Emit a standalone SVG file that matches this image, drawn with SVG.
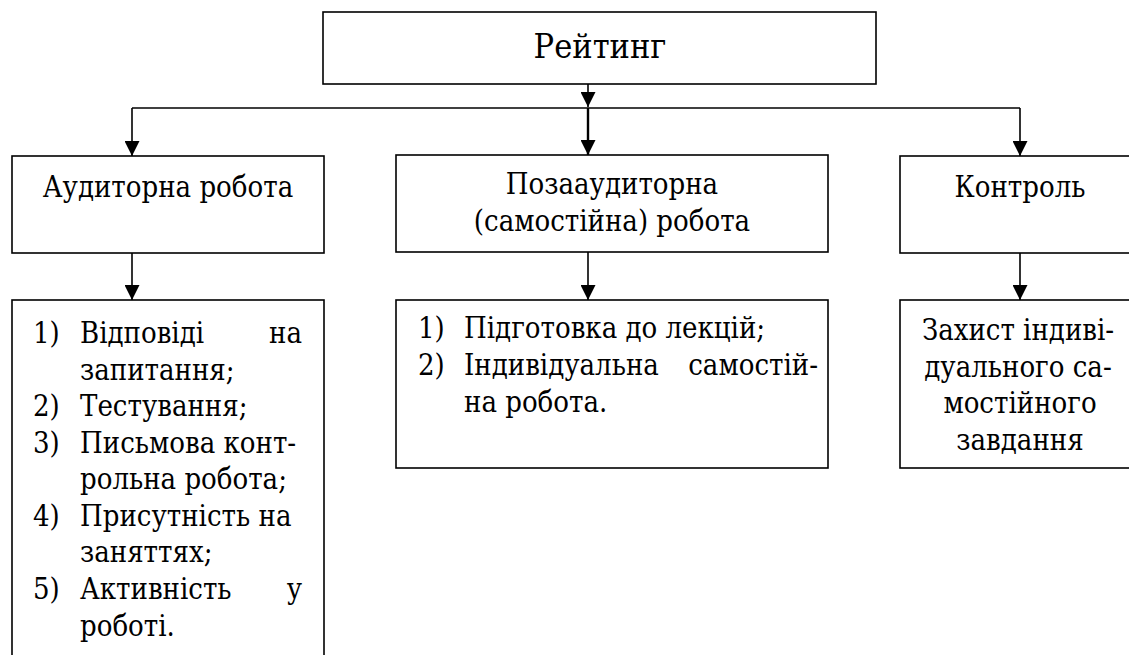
<svg xmlns="http://www.w3.org/2000/svg" width="1129" height="655" viewBox="0 0 1129 655">
<defs>
<style>
.box{fill:#fff;stroke:#000;stroke-width:1.6}
.t{font-family:"DejaVu Serif Condensed","DejaVu Serif",serif;font-stretch:condensed;font-size:29px;fill:#000}
.c{text-anchor:middle}
.e{text-anchor:end}
.title{font-size:34px}
.ln{fill:none;stroke:#000;stroke-width:1.6}
</style>
<marker id="ah" viewBox="0 0 15 15" refX="15" refY="7.5" markerWidth="15" markerHeight="15" markerUnits="userSpaceOnUse" orient="auto">
<path d="M0,0 L15,7.5 L0,15 z" fill="#000"/>
</marker>
</defs>
<rect width="1129" height="655" fill="#fff"/>
<g id="connectors">
<path class="ln" d="M588,84 V107" marker-end="url(#ah)"/>
<path class="ln" d="M132,108 H1020"/>
<path class="ln" d="M132,108 V156" marker-end="url(#ah)"/>
<path class="ln" style="stroke-width:2.4" d="M588,108 V155" marker-end="url(#ah)"/>
<path class="ln" d="M1020,108 V156" marker-end="url(#ah)"/>
<path class="ln" d="M132,253 V300" marker-end="url(#ah)"/>
<path class="ln" d="M588,252 V300" marker-end="url(#ah)"/>
<path class="ln" d="M1020,253 V300" marker-end="url(#ah)"/>
</g>
<g id="rating">
<rect class="box" x="323" y="12" width="553" height="72"/>
<text class="t c title" x="600" y="58">Рейтинг</text>
</g>
<g id="auditorna">
<rect class="box" x="12" y="156" width="312" height="97"/>
<text class="t c" x="168" y="197">Аудиторна робота</text>
</g>
<g id="pozaauditorna">
<rect class="box" x="396" y="155" width="432" height="97"/>
<text class="t c" x="612" y="194">Позааудиторна</text>
<text class="t c" x="612" y="231">(самостійна) робота</text>
</g>
<g id="kontrol">
<rect class="box" x="900" y="156" width="240" height="97"/>
<text class="t c" x="1020" y="197">Контроль</text>
</g>
<g id="auditorna-list">
<rect class="box" x="12" y="300" width="312" height="380"/>
<text class="t" x="33" y="343">1)</text>
<text class="t" x="80" y="343">Відповіді</text>
<text class="t e" x="302" y="343">на</text>
<text class="t" x="80" y="380">запитання;</text>
<text class="t" x="33" y="416">2)</text>
<text class="t" x="80" y="416">Тестування;</text>
<text class="t" x="33" y="453">3)</text>
<text class="t" x="80" y="453">Письмова конт-</text>
<text class="t" x="80" y="489">рольна робота;</text>
<text class="t" x="33" y="526">4)</text>
<text class="t" x="80" y="526">Присутність на</text>
<text class="t" x="80" y="562">заняттях;</text>
<text class="t" x="33" y="599">5)</text>
<text class="t" x="80" y="599">Активність</text>
<text class="t e" x="302" y="599">у</text>
<text class="t" x="80" y="636">роботі.</text>
</g>
<g id="pozaauditorna-list">
<rect class="box" x="396" y="300" width="432" height="168"/>
<text class="t" x="418" y="338">1)</text>
<text class="t" x="464" y="338">Підготовка до лекцій;</text>
<text class="t" x="418" y="375">2)</text>
<text class="t" x="464" y="375">Індивідуальна</text>
<text class="t e" x="818" y="375">самостій-</text>
<text class="t" x="464" y="412">на робота.</text>
</g>
<g id="kontrol-list">
<rect class="box" x="900" y="300" width="240" height="168"/>
<text class="t c" x="1018" y="340">Захист індиві-</text>
<text class="t c" x="1018" y="377">дуального са-</text>
<text class="t c" x="1020" y="413">мостійного</text>
<text class="t c" x="1020" y="450">завдання</text>
</g>
</svg>
